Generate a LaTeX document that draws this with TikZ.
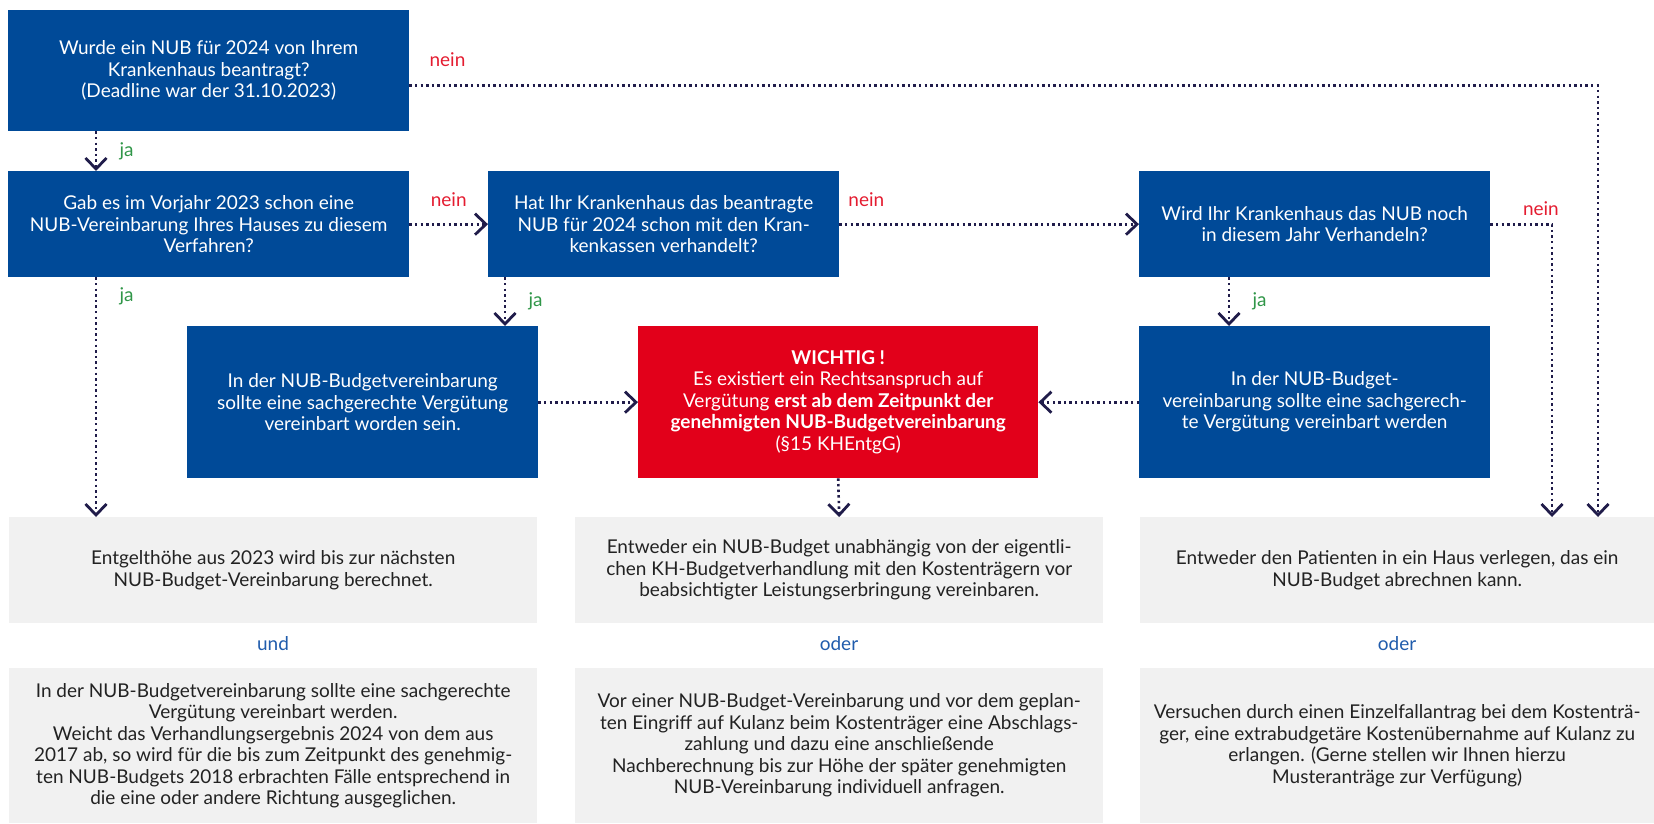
\documentclass[tikz,border=0pt]{standalone}
\usepackage{fontspec}
\setmainfont{Lato}
\definecolor{nubblue}{RGB}{0,74,152}
\definecolor{nubred}{RGB}{226,0,26}
\definecolor{nubgray}{RGB}{241,241,241}
\definecolor{navy}{RGB}{32,28,74}
\definecolor{neinred}{RGB}{228,28,48}
\definecolor{jagreen}{RGB}{48,150,72}
\definecolor{linkblue}{RGB}{32,92,172}
\definecolor{darktext}{RGB}{34,34,34}
\usetikzlibrary{arrows.meta,positioning}
\newcommand{\boxfont}{\fontsize{19}{21.5}\selectfont}

\begin{document}
\begin{tikzpicture}[x=1pt,y=-1pt,
    qbox/.style={fill=nubblue,text=white,anchor=north west,inner sep=0pt,
                 align=center,font=\boxfont},
    warnbox/.style={qbox,fill=nubred},
    infobox/.style={qbox,fill=nubgray,text=darktext},
    flow/.style={navy,line width=2.6pt,dash pattern=on 2.4pt off 3.2pt,
                 -{Straight Barb[length=11pt,width=21pt,line width=2.8pt]}},
    nein/.style={text=neinred,font=\boxfont},
    ja/.style={text=jagreen,font=\boxfont},
    link/.style={text=linkblue,font=\boxfont}]
    \useasboundingbox (0,0) rectangle (1654,823);

    \node[qbox,minimum width=401pt,minimum height=121pt] (wurde) at (8,10)
      {Wurde ein NUB für 2024 von Ihrem\\Krankenhaus beantragt?\\(Deadline war der 31.10.2023)};
    \node[qbox,minimum width=401pt,minimum height=106pt] (gab) at (8,171)
      {Gab es im Vorjahr 2023 schon eine\\NUB-Vereinbarung Ihres Hauses zu diesem\\Verfahren?};
    \node[qbox,minimum width=351pt,minimum height=106pt] (hat) at (488,171)
      {Hat Ihr Krankenhaus das beantragte\\NUB für 2024 schon mit den Kran-\\kenkassen verhandelt?};
    \node[qbox,minimum width=351pt,minimum height=106pt] (wird) at (1139,171)
      {Wird Ihr Krankenhaus das NUB noch\\in diesem Jahr Verhandeln?};

    \node[qbox,minimum width=351pt,minimum height=152pt] (sollte) at (187,326)
      {In der NUB-Budgetvereinbarung\\sollte eine sachgerechte Vergütung\\vereinbart worden sein.};
    \node[warnbox,minimum width=400pt,minimum height=152pt] (wichtig) at (638,326)
      {\textbf{WICHTIG !}\\Es existiert ein Rechtsanspruch auf\\Vergütung \textbf{erst ab dem Zeitpunkt der}\\
       \textbf{genehmigten NUB-Budgetvereinbarung}\\(§15 KHEntgG)};
    \node[qbox,minimum width=351pt,minimum height=152pt] (werden) at (1139,326)
      {In der NUB-Budget-\\vereinbarung sollte eine sachgerech-\\te Vergütung vereinbart werden};

    \node[infobox,minimum width=528pt,minimum height=106pt] (entgelt) at (9,517)
      {Entgelthöhe aus 2023 wird bis zur nächsten\\NUB-Budget-Vereinbarung berechnet.};
    \node[infobox,minimum width=528pt,minimum height=155pt] (ausgleich) at (9,668)
      {In der NUB-Budgetvereinbarung sollte eine sachgerechte\\Vergütung vereinbart werden.\\
       Weicht das Verhandlungsergebnis 2024 von dem aus\\2017 ab, so wird für die bis zum Zeitpunkt des genehmig-\\
       ten NUB-Budgets 2018 erbrachten Fälle entsprechend in\\die eine oder andere Richtung ausgeglichen.};
    \node[infobox,minimum width=528pt,minimum height=106pt] (budget) at (575,517)
      {Entweder ein NUB-Budget unabhängig von der eigentli-\\chen KH-Budgetverhandlung mit den Kostenträgern vor\\
       beabsichtigter Leistungserbringung vereinbaren.};
    \node[infobox,minimum width=528pt,minimum height=155pt] (kulanz) at (575,668)
      {Vor einer NUB-Budget-Vereinbarung und vor dem geplan-\\ten Eingriff auf Kulanz beim Kostenträger eine Abschlags-\\
       zahlung und dazu eine anschließende\\Nachberechnung bis zur Höhe der später genehmigten\\
       NUB-Vereinbarung individuell anfragen.};
    \node[infobox,minimum width=514pt,minimum height=106pt] (verlegen) at (1140,517)
      {Entweder den Patienten in ein Haus verlegen, das ein\\NUB-Budget abrechnen kann.};
    \node[infobox,minimum width=514pt,minimum height=155pt] (antrag) at (1140,668)
      {Versuchen durch einen Einzelfallantrag bei dem Kostenträ-\\ger, eine extrabudgetäre Kostenübernahme auf Kulanz zu\\
       erlangen. (Gerne stellen wir Ihnen hierzu\\Musteranträge zur Verfügung)};

    \node[link] (und) at (273,644) {und};
    \node[link] (oder1) at (839,644) {oder};
    \node[link] (oder2) at (1397,644) {oder};

    \draw[flow] ([xshift=88pt]wurde.south west) -- ([xshift=88pt]gab.north west)
      node[ja,midway,right=19pt] {ja};
    \draw[flow] ([yshift=-15pt]wurde.east) -| ([xshift=458pt]verlegen.north west)
      node[nein,pos=0.016,above=14pt] {nein};
    \draw[flow] (gab.east) -- (hat.west)
      node[nein,midway,above=13pt] {nein};
    \draw[flow] ([xshift=88pt]gab.south west) -- ([xshift=87pt]entgelt.north west)
      node[ja,pos=0.08,right=19pt] {ja};
    \draw[flow] ([xshift=17pt]hat.south west) -- ([xshift=318pt]sollte.north west)
      node[ja,midway,right=19pt] {ja};
    \draw[flow] (hat.east) -- (wird.west)
      node[nein,pos=0.09,above=13pt] {nein};
    \draw[flow] (wird.east) -| ([xshift=412pt]verlegen.north west)
      node[nein,pos=0.41,above=4pt] {nein};
    \draw[flow] ([xshift=90pt]wird.south west) -- ([xshift=90pt]werden.north west)
      node[ja,midway,right=19pt] {ja};
    \draw[flow] (sollte.east) -- (wichtig.west);
    \draw[flow] (werden.west) -- (wichtig.east);
    \draw[flow] (wichtig.south) -- (budget.north);
  \end{tikzpicture}
\end{document}
